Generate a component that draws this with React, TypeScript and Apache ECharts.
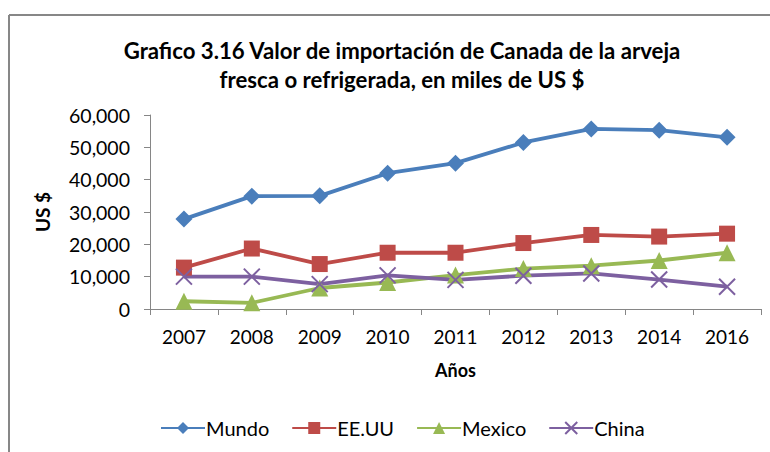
import React, { useEffect, useRef } from "react";
import * as echarts from "echarts";

const years = ["2007", "2008", "2009", "2010", "2011", "2012", "2013", "2014", "2016"];
const mundo = [27800, 34900, 35000, 42000, 45100, 51500, 55700, 55300, 53100];
const eeuu = [12800, 18700, 13900, 17400, 17400, 20400, 22900, 22400, 23300];
const mexico = [2400, 1900, 6500, 8200, 10500, 12500, 13400, 15000, 17400];
const china = [10000, 10000, 7700, 10400, 9000, 10300, 11000, 9100, 6900];

const FONT = "Lato, 'Open Sans', sans-serif";

export default function App() {
  const ref = useRef<HTMLDivElement>(null);
  useEffect(() => {
    const chart = echarts.init(ref.current!, null, { renderer: "svg" });
    const mk = (name: string, data: number[], color: string, symbol: string, size: number) => ({
      name,
      type: "line",
      data,
      symbol,
      symbolSize: size,
      lineStyle: { color, width: 3.8 },
      itemStyle: { color, borderColor: color, borderWidth: 0 },
    });
    chart.setOption({
      animation: false,
      title: {
        text: "Grafico 3.16 Valor de importación de Canada de la arveja\nfresca o refrigerada, en miles de US $",
        left: 397,
        textAlign: "center",
        top: 31,
        textStyle: { fontFamily: FONT, fontSize: 22.2, fontWeight: "bold", color: "#000", lineHeight: 29 },
      },
      legend: {
        bottom: 9,
        left: 155,
        itemWidth: 44,
        itemHeight: 15,
        itemGap: 22,
        textStyle: { fontFamily: FONT, fontSize: 20, color: "#000", padding: [0, 0, 0, -4] },
        data: ["Mundo", "EE.UU", "Mexico", "China"],
      },
      grid: { left: 150, right: 9, top: 115, bottom: 143 },
      xAxis: {
        type: "category",
        data: years,
        boundaryGap: true,
        name: "Años",
        nameLocation: "middle",
        nameGap: 52,
        nameTextStyle: { fontFamily: FONT, fontSize: 18, fontWeight: "bold", color: "#000" },
        axisLine: { lineStyle: { color: "#868686", width: 1 } },
        axisTick: { show: true, length: 6, alignWithLabel: false, lineStyle: { color: "#868686" } },
        axisLabel: { fontFamily: FONT, fontSize: 19, color: "#000", margin: 18 },
      },
      yAxis: {
        type: "value",
        min: 0,
        max: 60000,
        interval: 10000,
        name: "US $",
        nameLocation: "middle",
        nameGap: 98,
        nameTextStyle: { fontFamily: FONT, fontSize: 19, fontWeight: "bold", color: "#000" },
        splitLine: { show: false },
        axisLine: { show: true, lineStyle: { color: "#868686", width: 1 } },
        axisTick: { show: true, length: 6, lineStyle: { color: "#868686" } },
        axisLabel: {
          fontFamily: FONT,
          fontSize: 19.5,
          color: "#000",
          margin: 20,
          formatter: (v: number) => v.toLocaleString("en-US"),
        },
      },
      series: [
        mk("Mundo", mundo, "#4A7EBB", "diamond", 17),
        mk("EE.UU", eeuu, "#BE4B48", "rect", 16),
        mk("Mexico", mexico, "#98B954", "triangle", 17),
        {
          name: "China",
          type: "line",
          data: china,
          symbol: "path://M0,0L10,10M10,0L0,10",
          symbolSize: 16,
          lineStyle: { color: "#7D60A0", width: 3.8 },
          itemStyle: { color: "none", borderColor: "#7D60A0", borderWidth: 2 },
        },
      ],
      graphic: [
        { type: "line", shape: { x1: 9, y1: 15, x2: 780, y2: 15 }, style: { stroke: "#878787", lineWidth: 2 } },
        { type: "line", shape: { x1: 9, y1: 15, x2: 9, y2: 460 }, style: { stroke: "#878787", lineWidth: 2 } },
      ],
    });
    return () => chart.dispose();
  }, []);
  return (
    <div
      ref={ref}
      style={{ position: "fixed", left: 0, top: 0, width: 770, height: 452, background: "#fff" }}
    />
  );
}
